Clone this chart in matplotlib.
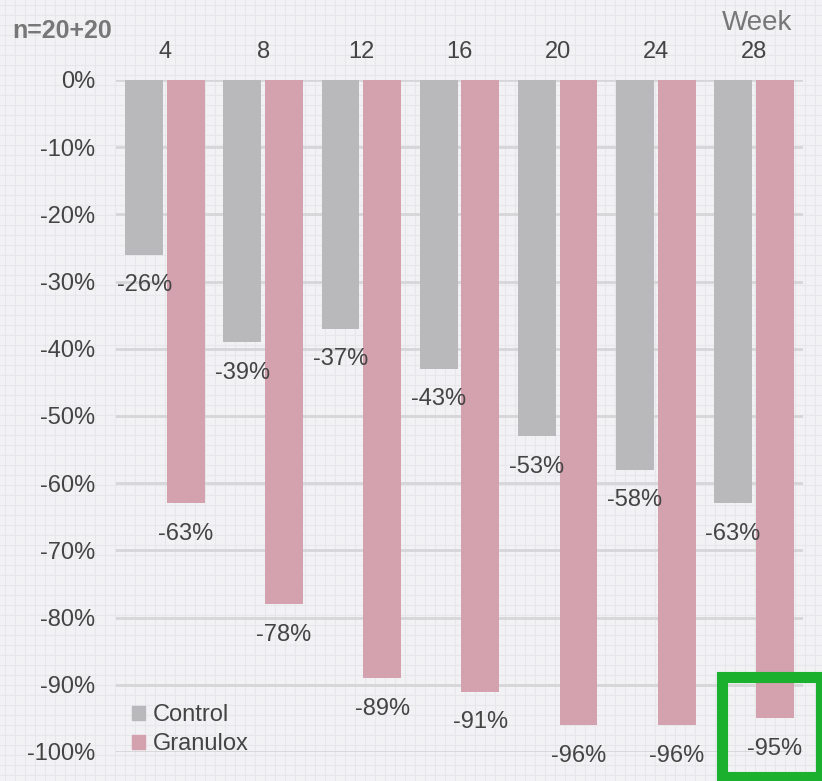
import numpy as np
import matplotlib.pyplot as plt
from matplotlib.patches import Rectangle, Patch

plt.rcParams['font.family'] = ['Liberation Sans', 'DejaVu Sans']

# ==========================================
# DATA
# ==========================================
weeks = ['4', '8', '12', '16', '20', '24', '28']
control = [-26, -39, -37, -43, -53, -58, -63]
granulox = [-63, -78, -89, -91, -96, -96, -95]
y_ticks = [0, -10, -20, -30, -40, -50, -60, -70, -80, -90, -100]

col_control = '#b9b9bb'
col_granulox = '#d4a1ae'
text_col = '#444444'

W, H = 822, 781
fig = plt.figure(figsize=(W / 100, H / 100), dpi=100)
fig.patch.set_facecolor('#f2f2f4')

# background graph-paper pattern
bg = fig.add_axes([0, 0, 1, 1], zorder=-5)
bg.set_xlim(0, W)
bg.set_ylim(H, 0)
bg.axis('off')
for v in np.arange(5, W, 10):
    bg.axvline(v, color='#e7e7eb', lw=0.8)
for h in np.arange(5, H, 10):
    bg.axhline(h, color='#e7e7eb', lw=0.8)

# main chart
ax = fig.add_axes([116 / W, (H - 752) / H, 687 / W, 672 / H])
ax.patch.set_alpha(0)
x = np.arange(len(weeks))
bw = 0.385
gap = 0.02
b1 = ax.bar(x - bw / 2 - gap, control, bw, color=col_control, zorder=3)
b2 = ax.bar(x + bw / 2 + gap, granulox, bw, color=col_granulox, zorder=3)

for bars, vals in [(b1, control), (b2, granulox)]:
    for rect, v in zip(bars, vals):
        ax.annotate(f'{v}%', (rect.get_x() + rect.get_width() / 2, v),
                    xytext=(0, -14), textcoords='offset points',
                    ha='center', va='top', fontsize=17, color=text_col,
                    annotation_clip=False, zorder=5)

ax.set_xlim(-0.5, len(weeks) - 0.5)
ax.set_ylim(-100, 0)
ax.set_yticks(y_ticks)
ax.set_yticklabels([f'{t}%' for t in y_ticks])
ax.yaxis.grid(True, color='#d6d6d8', lw=2, zorder=0)
ax.set_axisbelow(True)
ax.xaxis.tick_top()
ax.set_xticks(x)
ax.set_xticklabels(weeks)
ax.tick_params(axis='both', length=0, labelsize=17, labelcolor=text_col)
ax.tick_params(axis='x', pad=12)
ax.tick_params(axis='y', pad=15)
for s in ax.spines.values():
    s.set_visible(False)

handles = [Patch(color=col_control, label='Control'),
           Patch(color=col_granulox, label='Granulox')]
ax.legend(handles=handles, loc='lower left', bbox_to_anchor=(0.01, -0.019),
          frameon=False, fontsize=17, handlelength=0.55, handleheight=0.55,
          handletextpad=0.3, labelspacing=0.3, borderaxespad=0,
          labelcolor=text_col)

fig.text(12 / W, 1 - 31 / H, 'n=20+20', fontsize=18, fontweight='bold',
         color='#777777', ha='left', va='center')
fig.text(792 / W, 1 - 23 / H, 'Week', fontsize=20, color='#777777',
         ha='right', va='center')

# highlight box around last label
fig.patches.append(Rectangle((721.5 / W, 1 - 777 / H), 99 / W, 100 / H,
                             transform=fig.transFigure, fill=False,
                             edgecolor='#1bb02d', lw=8, zorder=10))

fig.savefig('out.png', dpi=100, facecolor=fig.get_facecolor())
